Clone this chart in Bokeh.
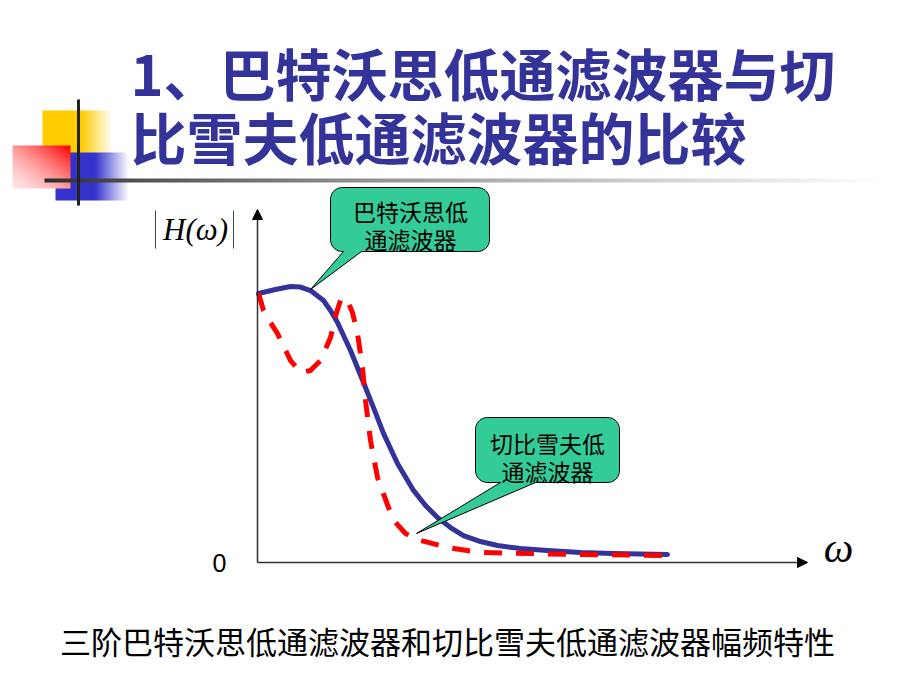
import numpy as np
from bokeh.plotting import figure
from bokeh.models import Range1d, Label, Arrow, NormalHead
from bokeh.embed import file_html
from bokeh.resources import INLINE

# ---------------- data ----------------
title_lines = ["1、巴特沃思低通滤波器与切", "比雪夫低通滤波器的比较"]
caption = "三阶巴特沃思低通滤波器和切比雪夫低通滤波器幅频特性"
callout_butter = ["巴特沃思低", "通滤波器"]
callout_cheby = ["切比雪夫低", "通滤波器"]
y_label = "H(ω)"
x_label = "ω"
origin_label = "0"

omega_butter = [0.0, 0.17, 0.32, 0.42, 0.52, 0.65, 0.72, 0.79, 0.92, 1.05, 1.15, 1.25,
                1.39, 1.55, 1.67, 1.79, 1.92, 2.05, 2.22, 2.39, 2.62, 2.89, 3.22, 3.55, 4.09]
h_butter = [1.0, 1.015, 1.026, 1.024, 1.011, 0.974, 0.937, 0.892, 0.788, 0.669, 0.576, 0.480,
            0.368, 0.268, 0.212, 0.167, 0.130, 0.100, 0.078, 0.063, 0.052, 0.045, 0.037, 0.033, 0.030]

omega_cheby = [0.0, 0.05, 0.12, 0.19, 0.32, 0.42, 0.52, 0.62, 0.72, 0.78, 0.82, 0.85, 0.89,
               0.94, 0.99, 1.04, 1.07, 1.12, 1.19, 1.30, 1.37, 1.47, 1.54, 1.62, 1.89, 2.22,
               2.72, 3.22, 4.09]
h_cheby = [1.0, 0.937, 0.892, 0.851, 0.751, 0.706, 0.714, 0.751, 0.836, 0.929, 0.974, 0.985, 0.974,
           0.929, 0.851, 0.725, 0.602, 0.454, 0.316, 0.204, 0.149, 0.108, 0.093, 0.082, 0.056, 0.037,
           0.033, 0.030, 0.026]

# ---------------- page geometry (pixel -> data helpers) ----------------
W, H = 920, 690
X0, Y0, SX, SY = 258.0, 562.0, 100.0, 269.0


def dx(px):
    return (px - X0) / SX


def dy(py):
    return (Y0 - py) / SY


p = figure(width=W, height=H, x_range=Range1d(dx(0), dx(W)), y_range=Range1d(dy(H), dy(0)),
           toolbar_location=None, output_backend="svg", min_border=0,
           x_axis_type=None, y_axis_type=None)
p.outline_line_color = None
p.background_fill_color = "white"
p.border_fill_color = "white"
p.grid.visible = False


def rgba(rgb, alpha):
    h, w = alpha.shape
    img = np.empty((h, w), dtype=np.uint32)
    v = img.view(dtype=np.uint8).reshape((h, w, 4))
    v[..., 0] = rgb[..., 0]
    v[..., 1] = rgb[..., 1]
    v[..., 2] = rgb[..., 2]
    v[..., 3] = alpha
    return np.ascontiguousarray(img[::-1])


def put_image(img, l, t, r, b):
    p.image_rgba(image=[img], x=dx(l), y=dy(b), dw=(r - l) / SX, dh=(b - t) / SY)


def fade_square(l, t, r, b, color, solid_to):
    w, h = int(r - l), int(b - t)
    xs = np.arange(w) + l
    a = np.clip(1 - (xs - solid_to) / (r - solid_to), 0, 1)
    alpha = np.tile((a * 255).astype(np.uint8), (h, 1))
    rgb = np.zeros((h, w, 3), dtype=np.uint8)
    rgb[..., 0], rgb[..., 1], rgb[..., 2] = color
    put_image(rgba(rgb, alpha), l, t, r, b)


# decoration squares
fade_square(42, 110, 112, 153, (255, 204, 0), 80)
fade_square(55, 152, 128, 200, (51, 51, 204), 94)

rl, rt, rr, rb = 12, 145, 70, 188
rw, rh = rr - rl, rb - rt
gx, gy = np.meshgrid(np.arange(rw) / (rw - 1), np.arange(rh) / (rh - 1))
a = (gx + (1 - gy)) / 2
k = 0.12 + 0.88 * a ** 1.6
rgb = np.zeros((rh, rw, 3), dtype=np.uint8)
rgb[..., 0] = 255
rgb[..., 1] = (255 * (1 - k)).astype(np.uint8)
rgb[..., 2] = (255 * (1 - k)).astype(np.uint8)
put_image(rgba(rgb, np.full((rh, rw), 255, dtype=np.uint8)), rl, rt, rr, rb)

# horizontal gradient rule
hl, hr = 44, 880
hw = hr - hl
t_ = (np.arange(hw) / hw) ** 0.75
lum = (40 + 215 * t_).astype(np.uint8)
rgb = np.zeros((4, hw, 3), dtype=np.uint8)
for c in range(3):
    rgb[..., c] = np.tile(lum, (4, 1))
put_image(rgba(rgb, np.full((4, hw), 255, dtype=np.uint8)), hl, 178, hr, 182)

# vertical rule
p.segment(x0=[dx(78)], y0=[dy(99)], x1=[dx(78)], y1=[dy(205)], line_color="#222222", line_width=3)

# ---------------- title ----------------
for line, yy in zip(title_lines, [71, 135]):
    p.add_layout(Label(x=dx(130), y=dy(yy), text=line, text_font="Noto Sans CJK SC",
                       text_font_size="56px", text_font_style="bold", text_color="#333399",
                       text_align="left", text_baseline="middle"))

# ---------------- axes ----------------
p.add_layout(Arrow(end=NormalHead(size=10, fill_color="black", line_color="black"),
                   x_start=dx(257), y_start=dy(562), x_end=dx(257), y_end=dy(209),
                   line_color="#333333", line_width=1.5))
p.add_layout(Arrow(end=NormalHead(size=10, fill_color="black", line_color="black"),
                   x_start=dx(257), y_start=dy(562), x_end=dx(807), y_end=dy(562),
                   line_color="#333333", line_width=1.5))

p.add_layout(Label(x=dx(195), y=dy(229), text=y_label, text_font="Liberation Serif",
                   text_font_size="31px", text_font_style="italic", text_color="black",
                   text_align="center", text_baseline="middle"))
p.segment(x0=[dx(155), dx(233)], y0=[dy(210), dy(210)], x1=[dx(155), dx(233)], y1=[dy(248), dy(248)],
          line_color="#444444", line_width=1)
p.add_layout(Label(x=dx(219), y=dy(562), text=origin_label, text_font="Liberation Sans",
                   text_font_size="25px", text_color="black",
                   text_align="center", text_baseline="middle"))
p.add_layout(Label(x=dx(838), y=dy(547), text=x_label, text_font="Liberation Serif",
                   text_font_size="42px", text_font_style="italic", text_color="black",
                   text_align="center", text_baseline="middle"))

# ---------------- curves ----------------
p.line(omega_butter, h_butter, line_color="#333399", line_width=5, line_join="round", line_cap="round")
p.line(omega_cheby, h_cheby, line_color="#FF0000", line_width=5, line_dash="18 14", line_join="round")


# ---------------- callouts ----------------
def callout(l, t, r, b, rad, base1, base2, tip, n=10):
    pts = []

    def arc(cx, cy, a0, a1):
        return [(cx + rad * np.cos(q), cy + rad * np.sin(q)) for q in np.linspace(a0, a1, n)]

    pts += arc(l + rad, t + rad, np.pi, 1.5 * np.pi)
    pts += arc(r - rad, t + rad, 1.5 * np.pi, 2 * np.pi)
    pts += arc(r - rad, b - rad, 0, 0.5 * np.pi)
    pts += [(base2, b), tip, (base1, b)]
    pts += arc(l + rad, b - rad, 0.5 * np.pi, np.pi)
    p.patch([dx(x) for x, _ in pts], [dy(y) for _, y in pts], fill_color="#33CC99",
            line_color="black", line_width=1)


callout(330, 187, 489, 251, 12, 343, 361, (310, 289))
callout(475, 417, 619, 482, 12, 500, 535, (416, 533))

for txt, (cx, cy) in zip(callout_butter, [(410, 210), (410, 238)]):
    p.add_layout(Label(x=dx(cx), y=dy(cy), text=txt, text_font="Noto Sans CJK SC",
                       text_font_size="23px", text_color="black",
                       text_align="center", text_baseline="middle"))
for txt, (cx, cy) in zip(callout_cheby, [(547, 442), (547, 470)]):
    p.add_layout(Label(x=dx(cx), y=dy(cy), text=txt, text_font="Noto Sans CJK SC",
                       text_font_size="23px", text_color="black",
                       text_align="center", text_baseline="middle"))

# ---------------- caption ----------------
p.add_layout(Label(x=dx(447), y=dy(640), text=caption, text_font="Noto Sans CJK SC",
                   text_font_size="31px", text_color="black",
                   text_align="center", text_baseline="middle"))

open("out.html", "w").write(file_html(p, INLINE))
